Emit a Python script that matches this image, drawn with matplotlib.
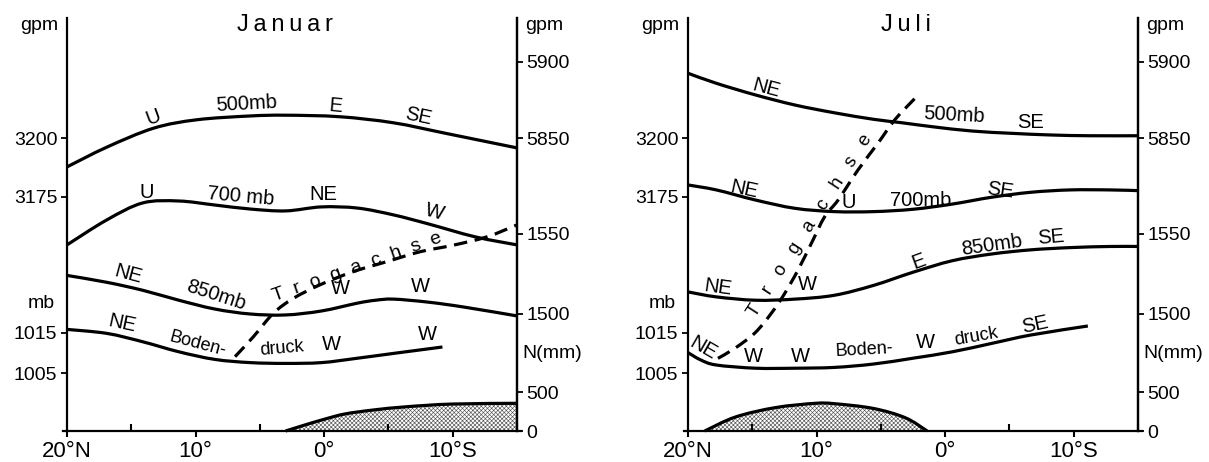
import numpy as np
import matplotlib
matplotlib.use("Agg")
import matplotlib.pyplot as plt
from matplotlib.path import Path
from matplotlib.patches import PathPatch

plt.rcParams['font.family'] = ['Liberation Sans', 'DejaVu Sans']
plt.rcParams['hatch.linewidth'] = 0.45

# ---------------- data ----------------
lat_major = [20, 10, 0, -10]
lat_major_labels = ['20°N', '10°', '0°', '10°S']
lat_minor = [15, 5, -5, -15]

# Januar
jan_500_lat = [20, 16.9, 13.25, 9.9, 5.75, 3.0, -1.2, -5.4, -9.5, -15]
jan_500_gpm = [5831, 5844, 5856.5, 5862, 5864.5, 5865, 5864, 5860, 5853, 5843.5]
jan_700_lat = [20, 16.9, 14.1, 11.3, 8.5, 5.75, 3.0, 0.2, -2.6, -5.4, -8.1, -11.75, -15]
jan_700_gpm = [3154.7, 3165.3, 3172.5, 3173.3, 3171.6, 3169.9, 3169.1, 3170.8, 3170.3,
               3167.4, 3163.6, 3158.1, 3154.7]
jan_850_lat = [20, 16.9, 14.1, 11.3, 8.5, 5.75, 3.0, 0.2, -2.6, -4.0, -5.4, -8.1, -10.9, -15]
jan_850_gpm = [1524.1, 1519.8, 1514.8, 1508.6, 1503.1, 1500, 1499.4, 1501.9, 1506.8,
               1508.6, 1509.3, 1507.4, 1504.3, 1498.8]
jan_sfc_lat = [20, 16.9, 14.1, 11.3, 8.5, 5.75, 3.0, 0.2, -2.6, -5.4, -9.2]
jan_sfc_mb = [1015.9, 1014.9, 1012.8, 1010.3, 1008.4, 1007.6, 1007.4, 1007.6, 1008.7, 1009.9, 1011.5]
jan_rain_lat = [3.0, 1.5, 0.0, -1.6, -3.8, -6.4, -10.0, -15]
jan_rain_mm = [0, 77, 150, 218, 269, 311, 346, 355]
jan_trough_lat = [6.93, 5.51, 3.95, 2.40, 0.32, -2.27, -4.87, -7.46, -10.05, -12.65, -15]
jan_trough_h = [0.180, 0.228, 0.285, 0.321, 0.354, 0.386, 0.410, 0.434, 0.450, 0.470, 0.499]

# Juli
jul_500_lat = [20, 17.8, 14.74, 11.68, 8.62, 5.56, 3.42, 0.97, -2.09, -5.15, -8.2, -11.26, -15]
jul_500_gpm = [5892.6, 5886.0, 5878.3, 5871.7, 5866.6, 5862.3, 5860.1, 5857.4, 5854.6,
               5853.1, 5852.0, 5851.5, 5851.5]
jul_700_lat = [20, 17.8, 14.74, 11.68, 8.62, 5.56, 2.5, -0.56, -3.62, -6.67, -9.73, -12.8, -15]
jul_700_gpm = [3180.1, 3178.0, 3173.7, 3170.2, 3168.8, 3168.8, 3169.8, 3172.0, 3174.9,
               3177.0, 3178.0, 3178.0, 3177.7]
jul_850_lat = [20, 17.8, 14.74, 11.68, 8.62, 5.56, 2.5, -0.56, -3.62, -6.67, -9.73, -12.8, -15]
jul_850_gpm = [1513.8, 1510.7, 1508.6, 1509.3, 1511.7, 1517.9, 1526.1, 1533.3, 1537.5,
               1540.1, 1541.5, 1542.2, 1542.2]
jul_sfc_lat = [20, 19.0, 17.8, 14.74, 11.68, 8.62, 5.56, 2.5, -0.56, -3.62, -6.67, -11.1]
jul_sfc_mb = [1010.1, 1008.25, 1007.0, 1006.2, 1006.2, 1006.4, 1007.25, 1008.7, 1010.3,
              1012.4, 1014.5, 1016.75]
jul_rain_lat = [18.7, 16.3, 13.2, 10.1, 8.6, 5.6, 3.1, 1.4]
jul_rain_mm = [0, 180, 300, 355, 350, 290, 170, 0]
jul_trough_lat = [17.67, 16.37, 14.81, 13.52, 12.48, 11.44, 10.41, 9.37, 8.33, 6.78, 5.22, 3.93, 2.24]
jul_trough_h = [0.176, 0.200, 0.237, 0.285, 0.333, 0.390, 0.454, 0.519, 0.559, 0.632, 0.697, 0.753, 0.809]

# scale anchors: (value, relative height in the diagram)
SC_500 = ((5850, 0.7094), (5900, 0.8935))
SC_700 = ((3175, 0.5666), (3200, 0.7094))
SC_850 = ((1500, 0.2833), (1550, 0.4770))
SC_SFC = ((1005, 0.1404), (1015, 0.2373))
SC_N = ((0, 0.0), (500, 0.0944))

left_ticks = [(SC_700, 3200), (SC_700, 3175), (SC_SFC, 1015), (SC_SFC, 1005)]
right_ticks = [(SC_500, 5900), (SC_500, 5850), (SC_850, 1550), (SC_850, 1500),
               (SC_N, 500), (SC_N, 0)]


def to_h(scale, v):
    (v1, f1), (v2, f2) = scale
    return f1 + (np.asarray(v, dtype=float) - v1) * (f2 - f1) / (v2 - v1)


def smooth_path(xs, ys, close_to_base=False):
    """Catmull-Rom curve through the points, expressed as cubic Bezier path."""
    P = np.column_stack([xs, ys]).astype(float)
    n = len(P)
    verts = [P[0]]
    codes = [Path.MOVETO]
    for i in range(n - 1):
        p0 = P[i - 1] if i > 0 else P[i]
        p1, p2 = P[i], P[i + 1]
        p3 = P[i + 2] if i + 2 < n else P[i + 1]
        c1 = p1 + (p2 - p0) / 6.0
        c2 = p2 - (p3 - p1) / 6.0
        verts += [c1, c2, p2]
        codes += [Path.CURVE4] * 3
    if close_to_base:
        verts += [(P[-1, 0], 0.0), (P[0, 0], 0.0), P[0]]
        codes += [Path.LINETO, Path.LINETO, Path.CLOSEPOLY]
    return Path(np.array(verts), codes)


# ---------------- layout ----------------
W, H = 1209, 462
fig = plt.figure(figsize=(W / 100, H / 100), dpi=100)
BOT_PX, TOP_PX = 431, 18
PANEL_W = 450

FS_TICK = 14
FS_X = 16
FS_LAB = 14.5
LW = 2.3

panels = [
    dict(left=67, title='J\u2009a\u2009n\u2009u\u2009a\u2009r',
         c500=(jan_500_lat, jan_500_gpm), c700=(jan_700_lat, jan_700_gpm),
         c850=(jan_850_lat, jan_850_gpm), csfc=(jan_sfc_lat, jan_sfc_mb),
         rain=(jan_rain_lat, jan_rain_mm), trough=(jan_trough_lat, jan_trough_h),
         labels=[("U", 153, 117, 20), ("500mb", 247, 104, 3), ("E", 336, 106, -5),
                 ("SE", 418, 116, -12), ("U", 147, 192, 0), ("700 mb", 241, 196, -5),
                 ("NE", 323, 195, 0), ("W", 435, 212, -15), ("NE", 128, 274, -15),
                 ("850mb", 216, 295, -18), ("W", 340, 289, 0), ("W", 420, 287, 0),
                 ("NE", 122, 324, -12), ("W", 331, 345, 0), ("W", 427, 334, 0)],
         small=[("Boden-", 198, 344, -15), ("druck", 282, 349, 5)],
         troughtext=(357, 267, 19.5, 14, "T  r  o  g  a  c  h  s  e")),
    dict(left=688, title='J\u2009u\u2009l\u2009i',
         c500=(jul_500_lat, jul_500_gpm), c700=(jul_700_lat, jul_700_gpm),
         c850=(jul_850_lat, jul_850_gpm), csfc=(jul_sfc_lat, jul_sfc_mb),
         rain=(jul_rain_lat, jul_rain_mm), trough=(jul_trough_lat, jul_trough_h),
         labels=[("NE", 766, 88, -15), ("500mb", 954, 115, -3), ("SE", 1031, 122, 0),
                 ("NE", 744, 190, -12), ("U", 849, 202, 0), ("700mb", 921, 200, 0),
                 ("SE", 1000, 190, -8), ("NE", 718, 287, -8), ("W", 807, 285, 0),
                 ("E", 919, 262, 20), ("850mb", 992, 245, 8), ("SE", 1051, 237, 5),
                 ("NE", 703, 348, -30), ("W", 753, 357, 0), ("W", 800, 357, 0),
                 ("W", 925, 343, 0), ("SE", 1035, 325, 12)],
         small=[("Boden-", 864, 350, 3), ("druck", 976, 337, 10)],
         troughtext=(810, 226, 57, 13.5, "T   r   o   g   a   c   h   s   e")),
]

for p in panels:
    ax = fig.add_axes([p['left'] / W, 1 - BOT_PX / H, PANEL_W / W, (BOT_PX - TOP_PX) / H])
    ax.set_xlim(20, -15)
    ax.set_ylim(0, 1)
    ax.patch.set_alpha(0)
    ax.spines['top'].set_visible(False)
    for s in ['left', 'right', 'bottom']:
        ax.spines[s].set_linewidth(1.6)
    ax.spines['bottom'].set_bounds(20.35, -15.3)

    # curves
    for key, sc in (('c500', SC_500), ('c700', SC_700), ('c850', SC_850), ('csfc', SC_SFC)):
        la, va = p[key]
        ax.add_patch(PathPatch(smooth_path(la, to_h(sc, va)), fill=False, edgecolor='black',
                               lw=LW, capstyle='butt', clip_on=False))

    # rainfall
    rl, rv = p['rain']
    rh = to_h(SC_N, rv)
    ax.add_patch(PathPatch(smooth_path(rl, rh, close_to_base=True), facecolor='white',
                           edgecolor='#555555', hatch='xxxxxxxx', lw=0))
    ax.add_patch(PathPatch(smooth_path(rl, rh), fill=False, edgecolor='black', lw=LW,
                           clip_on=False))

    # trough axis
    tl, th = p['trough']
    ax.add_patch(PathPatch(smooth_path(tl, th), fill=False, edgecolor='black', lw=LW,
                           linestyle=(0, (4.2, 2.4)), clip_on=False))

    # ticks
    ax.set_xticks(lat_major)
    ax.set_xticklabels(lat_major_labels, fontsize=FS_X)
    ax.set_xticks(lat_minor, minor=True)
    ax.tick_params(axis='x', which='major', direction='out', length=4, width=1.5, pad=3)
    ax.tick_params(axis='x', which='minor', direction='in', length=5, width=1.5)

    ax.set_yticks([float(to_h(sc, v)) for sc, v in left_ticks])
    ax.set_yticklabels([str(v) for sc, v in left_ticks], fontsize=FS_TICK)
    ax.tick_params(axis='y', direction='out', length=4, width=1.3, pad=3)

    ax2 = ax.twinx()
    ax2.set_ylim(0, 1)
    for s in ['top', 'left', 'bottom']:
        ax2.spines[s].set_visible(False)
    ax2.spines['right'].set_linewidth(1.6)
    ax2.set_yticks([float(to_h(sc, v)) for sc, v in right_ticks])
    ax2.set_yticklabels([str(v) for sc, v in right_ticks], fontsize=FS_TICK)
    ax2.tick_params(axis='y', direction='out', length=4, width=1.3, pad=3)

    # axis unit labels
    lpx = p['left']
    fig.text((lpx - 9) / W, 1 - 26 / H, 'gpm', ha='right', va='center', fontsize=FS_TICK)
    fig.text((lpx + PANEL_W + 8) / W, 1 - 26 / H, 'gpm', ha='left', va='center', fontsize=FS_TICK)
    fig.text((lpx - 12) / W, 1 - 304 / H, 'mb', ha='right', va='center', fontsize=FS_TICK)
    fig.text((lpx + PANEL_W + 5) / W, 1 - 354 / H, 'N(mm)', ha='left', va='center', fontsize=FS_TICK)

    # title
    fig.text((lpx + PANEL_W * 0.485) / W, 1 - 25 / H, p['title'], ha='center', va='center',
             fontsize=17)

    # curve labels
    for t, x, y, r in p['labels']:
        fig.text(x / W, 1 - y / H, t, ha='center', va='center', rotation=r,
                 rotation_mode='anchor', fontsize=FS_LAB)
    for t, x, y, r in p['small']:
        fig.text(x / W, 1 - y / H, t, ha='center', va='center', rotation=r,
                 rotation_mode='anchor', fontsize=13)
    x, y, r, fs, t = p['troughtext']
    fig.text(x / W, 1 - y / H, t, ha='center', va='center', rotation=r,
             rotation_mode='anchor', fontsize=fs)

fig.savefig('out.png', dpi=100, facecolor='white')
